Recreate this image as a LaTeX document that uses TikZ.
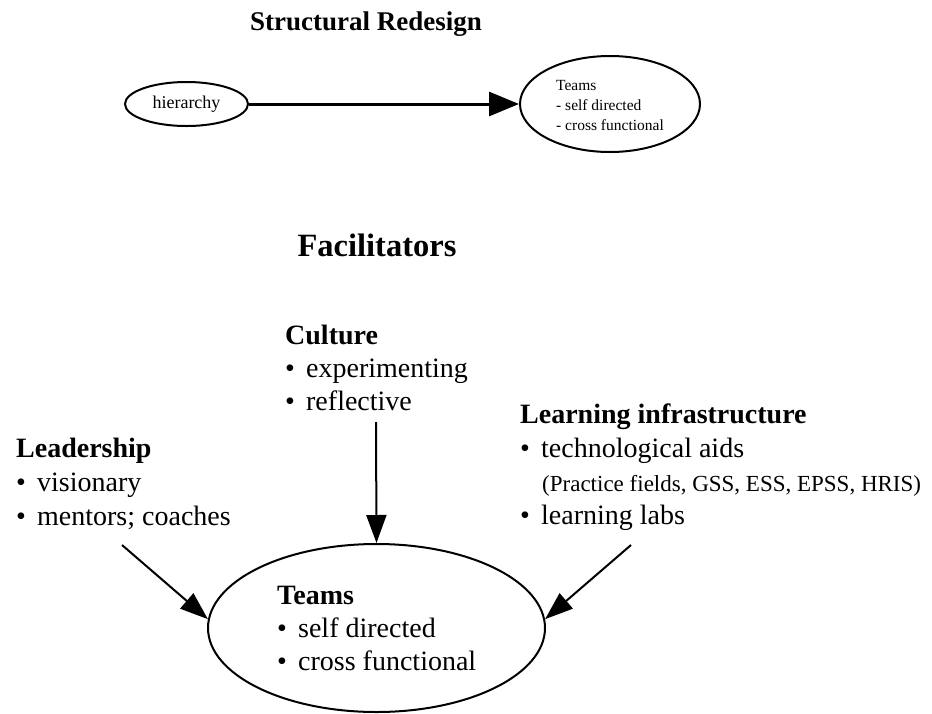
\documentclass[tikz,border=0pt]{standalone}
\usepackage{fontspec}
\setmainfont{Liberation Serif}
\usetikzlibrary{arrows.meta,shapes.geometric}
\begin{document}
\begin{tikzpicture}[x=1pt,y=-1pt,
  txt/.style={anchor=base west,inner sep=0pt,font=\fontsize{28}{34}\selectfont},
  hdr/.style={anchor=base west,inner sep=0pt,font=\fontsize{28}{34}\selectfont\bfseries},
  small/.style={anchor=base west,inner sep=0pt,font=\fontsize{15.5}{20}\selectfont},
  oval/.style={draw,ellipse,line width=2pt,inner sep=0pt},
  bigarrow/.style={line width=2pt,-{Triangle[length=28pt,width=20pt]}},
  toparrow/.style={line width=3pt,-{Triangle[length=30pt,width=24pt]}}]
\useasboundingbox[fill=white] (0,0) rectangle (932,713);
\newcommand{\bul}{\makebox[21pt][l]{•}}

% Structural redesign
\node[font=\fontsize{27}{30}\selectfont\bfseries, anchor=base, inner sep=0pt] (t1) at (366,30) {Structural Redesign};
\node[oval, minimum width=123pt, minimum height=44pt, font=\fontsize{18}{20}\selectfont] (h) at (186.5,104) {hierarchy};
\node[oval, minimum width=180pt, minimum height=96pt] (tm) at (610,104) {};
\node[small] (tm1) at (556,90) {Teams};
\node[small] (tm2) at (556,110) {- self directed};
\node[small] (tm3) at (556,130) {- cross functional};
\draw[toparrow] (h.east) -- (tm.west);

% Facilitators
\node[font=\fontsize{32.5}{36}\selectfont\bfseries, anchor=base, inner sep=0pt] (t2) at (377,256) {Facilitators};

% Culture
\node[hdr] (c0) at (285,344) {Culture};
\node[txt] (c1) at (285,377) {\bul experimenting};
\node[txt] (c2) at (285,410) {\bul reflective};

% Leadership
\node[hdr] (l0) at (16,457) {Leadership};
\node[txt] (l1) at (16,491) {\bul visionary};
\node[txt] (l2) at (16,525) {\bul mentors; coaches};

% Learning infrastructure
\node[hdr] (i0) at (520,423) {Learning infrastructure};
\node[txt] (i1) at (520,457) {\bul technological aids};
\node[txt, font=\fontsize{23}{28}\selectfont] (i2) at (542,491) {(Practice fields, GSS, ESS, EPSS, HRIS)};
\node[txt] (i3) at (520,524) {\bul learning labs};

% Bottom teams
\node[oval, minimum width=337pt, minimum height=168pt] (bot) at (376.5,628) {};
\node[hdr] (b0) at (277,604) {Teams};
\node[txt] (b1) at (277,637) {\bul self directed};
\node[txt] (b2) at (277,670) {\bul cross functional};

\coordinate (cs) at (376,422);
\coordinate (ls) at (122,545);
\coordinate (rs) at (631,545);
\draw[bigarrow] (cs) -- (bot.north);
\draw[bigarrow] (ls) -- (bot.177);
\draw[bigarrow] (rs) -- (bot.3);
\end{tikzpicture}
\end{document}
